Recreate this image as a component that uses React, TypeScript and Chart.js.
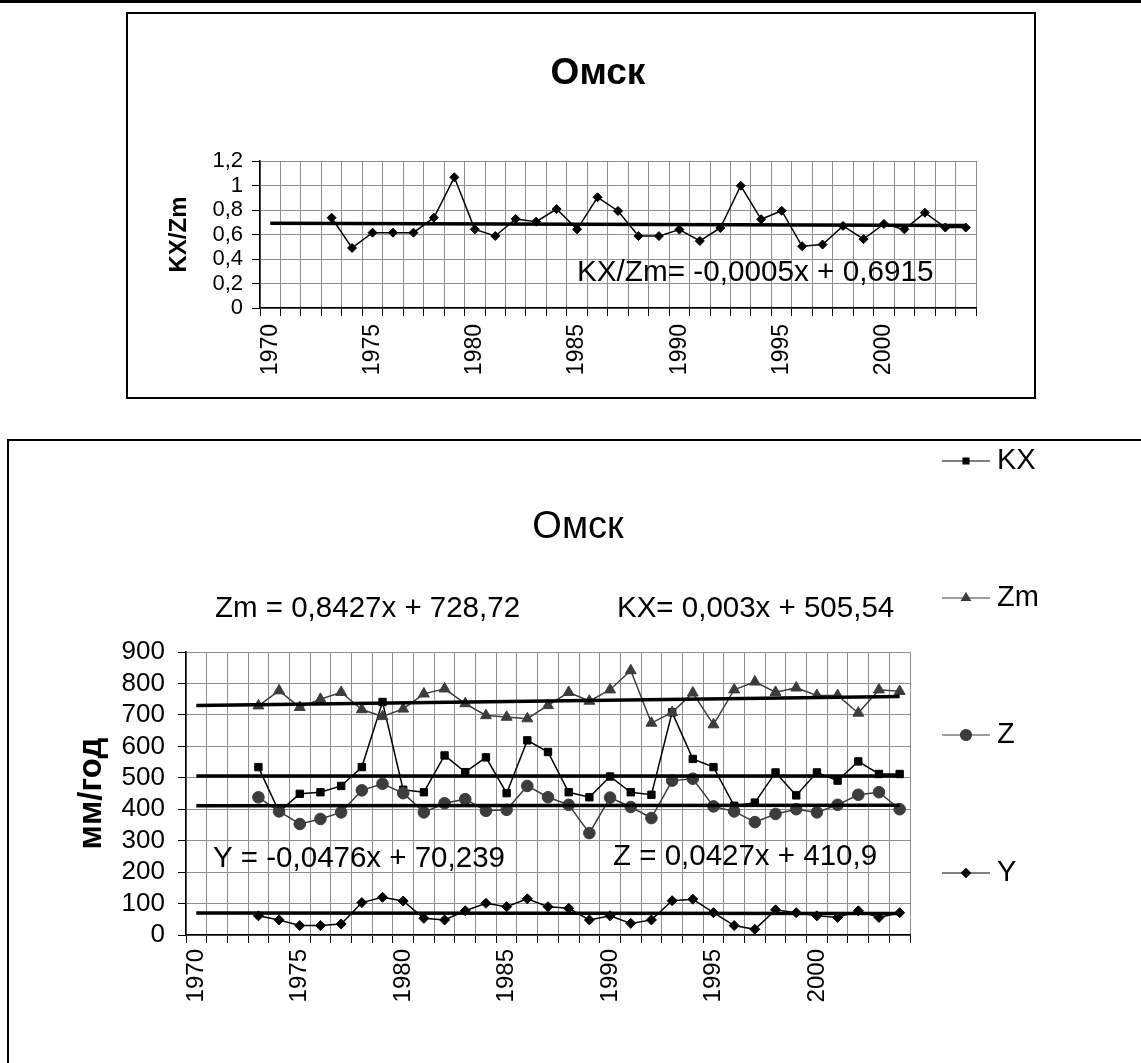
import React, { useEffect, useRef } from 'react';
import { Chart, registerables } from 'chart.js';
import { drawPoint } from 'chart.js/helpers';

Chart.register(...registerables);

const FONT = "'Liberation Sans', Arial, Helvetica, sans-serif";
const GRID = '#909090';
const DARK = '#3c3c3c';

// ---------- data ----------
const years = [
  '1970', '1971', '1972', '1973', '1974', '1975', '1976', '1977', '1978', '1979',
  '1980', '1981', '1982', '1983', '1984', '1985', '1986', '1987', '1988', '1989',
  '1990', '1991', '1992', '1993', '1994', '1995', '1996', '1997', '1998', '1999',
  '2000', '2001', '2002', '2003', '2004',
];
const labeledYears = ['1970', '1975', '1980', '1985', '1990', '1995', '2000'];

const ratioKXZm = [
  null, null, null, 0.737, 0.49, 0.615, 0.615, 0.615, 0.737, 1.067,
  0.642, 0.588, 0.727, 0.705, 0.808, 0.642, 0.904, 0.792, 0.587, 0.587,
  0.64, 0.547, 0.653, 0.998, 0.724, 0.794, 0.504, 0.518, 0.67, 0.562,
  0.686, 0.642, 0.778, 0.657, 0.657,
];
const ratioTrend = [0.691, 0.674];

const seriesKX = [
  null, null, null, 534, 392, 449, 454, 474, 534, 741,
  462, 454, 571, 518, 565, 451, 619, 582, 454, 438,
  504, 454, 446, 708, 560, 534, 411, 421, 517, 444,
  517, 491, 552, 512, 512,
];
const seriesZm = [
  null, null, null, 729, 777, 724, 750, 772, 717, 695,
  719, 767, 783, 736, 698, 693, 688, 730, 772, 744,
  780, 841, 674, 708, 770, 669, 780, 805, 772, 786,
  762, 762, 706, 780, 775,
];
const seriesZ = [
  null, null, null, 438, 393, 353, 369, 390, 460, 481,
  451, 390, 419, 432, 395, 398, 474, 438, 414, 324,
  437, 407, 372, 491, 497, 409, 393, 359, 385, 400,
  390, 414, 446, 454, 400,
];
const seriesY = [
  null, null, null, 61, 48, 30, 30, 35, 103, 120,
  108, 53, 48, 77, 101, 90, 115, 90, 85, 48,
  61, 37, 48, 109, 114, 71, 30, 18, 80, 71,
  61, 56, 77, 56, 71,
];
const trendKX = [505.5, 505.6];
const trendZm = [729.6, 758.2];
const trendZ = [410.9, 412.4];
const trendY = [70.2, 68.6];

const eqRatio = 'KX/Zm= -0,0005x + 0,6915';
const eqZm = 'Zm = 0,8427x + 728,72';
const eqKX = 'KX= 0,003x + 505,54';
const eqY = 'Y = -0,0476x + 70,239';
const eqZ = 'Z = 0,0427x + 410,9';

// ---------- helpers ----------
const trendData = (vals: number[]) => [
  { x: years[0], y: vals[0] },
  { x: years[years.length - 1], y: vals[1] },
];

const makeAnnot = (cfg: any) => ({
  id: 'annot',
  afterDraw(chart: any) {
    const ctx = chart.ctx;
    ctx.save();
    ctx.textBaseline = 'middle';
    (cfg.texts || []).forEach((t: any) => {
      ctx.font = t.font;
      ctx.fillStyle = '#000';
      ctx.textAlign = t.align || 'left';
      ctx.fillText(t.text, t.x, t.y);
    });
    const lg = cfg.legend;
    if (lg) {
      lg.items.forEach((it: any, i: number) => {
        const ds = chart.data.datasets[it.index];
        const y = lg.ys[i];
        ctx.strokeStyle = ds.borderColor;
        ctx.lineWidth = 1.2;
        ctx.beginPath();
        ctx.moveTo(lg.x0, y);
        ctx.lineTo(lg.x1, y);
        ctx.stroke();
        ctx.fillStyle = ds.pointBackgroundColor || ds.borderColor;
        ctx.strokeStyle = ds.pointBorderColor || ds.borderColor;
        drawPoint(ctx, { pointStyle: ds.pointStyle, radius: it.radius, borderWidth: 1, rotation: 0 }, (lg.x0 + lg.x1) / 2, y);
        ctx.fillStyle = '#000';
        ctx.font = lg.font;
        ctx.textAlign = 'left';
        ctx.fillText(ds.label, lg.textX, y);
      });
    }
    ctx.restore();
  },
});

const xTickCallback = function (this: any, value: any) {
  const lab = this.getLabelForValue(value);
  return labeledYears.includes(lab) ? lab : '';
};

const commaFmt = (v: any) => String(Math.round(Number(v) * 10) / 10).replace('.', ',');

// ---------- configs ----------
const topConfig = (): any => ({
  type: 'line',
  data: {
    labels: years,
    datasets: [
      {
        label: 'KX/Zm',
        data: ratioKXZm,
        borderColor: '#000',
        backgroundColor: '#000',
        borderWidth: 1.5,
        pointStyle: 'rectRot',
        pointRadius: 4.5,
        pointBorderWidth: 1,
        order: 1,
      },
      {
        label: 'trend',
        data: trendData(ratioTrend),
        borderColor: '#000',
        borderWidth: 3.5,
        pointRadius: 0,
        order: 0,
      },
    ],
  },
  options: {
    responsive: false,
    animation: false,
    events: [],
    layout: { padding: { left: 0, right: 58, top: 147, bottom: 0 } },
    plugins: { legend: { display: false }, title: { display: false }, tooltip: { enabled: false } },
    scales: {
      x: {
        type: 'category',
        offset: true,
        grid: { offset: true, color: GRID, tickColor: '#000', tickLength: 8, lineWidth: 1 },
        border: { color: '#000', width: 1.5 },
        ticks: {
          autoSkip: false,
          minRotation: 90,
          maxRotation: 90,
          padding: 8,
          color: '#000',
          font: { family: FONT, size: 23 },
          callback: xTickCallback,
        },
        afterFit: (s: any) => { s.height = 89; },
      },
      y: {
        min: 0,
        max: 1.2,
        grid: { color: GRID, tickColor: '#000', tickLength: 8, lineWidth: 1 },
        border: { color: '#000', width: 1.5 },
        ticks: {
          autoSkip: false,
          stepSize: 0.2,
          padding: 9,
          color: '#000',
          font: { family: FONT, size: 22, lineHeight: 1 },
          callback: commaFmt,
        },
        title: {
          display: true,
          text: 'KX/Zm',
          color: '#000',
          font: { family: FONT, size: 24, weight: 'bold' },
          padding: { top: 36.6, bottom: 0 },
        },
        afterFit: (s: any) => { s.width = 132; },
      },
    },
  },
  plugins: [
    makeAnnot({
      texts: [
        { text: 'Омск', x: 470, y: 60, font: `bold 37px ${FONT}`, align: 'center' },
        { text: eqRatio, x: 449, y: 259, font: `29.7px ${FONT}` },
      ],
    }),
  ],
});

const seriesDs = (label: string, data: any[], color: string, style: string, r: number, order: number) => ({
  label,
  data,
  borderColor: color,
  backgroundColor: color,
  pointBackgroundColor: color,
  pointBorderColor: color,
  borderWidth: 1.5,
  pointStyle: style,
  pointRadius: r,
  pointBorderWidth: 1,
  order,
});
const trendDs = (vals: number[]) => ({
  label: 'trend',
  data: trendData(vals),
  borderColor: '#000',
  borderWidth: 3.5,
  pointRadius: 0,
  order: 0,
});

const bottomConfig = (): any => ({
  type: 'line',
  data: {
    labels: years,
    datasets: [
      seriesDs('KX', seriesKX, '#000', 'rect', 5.2, 4),
      seriesDs('Zm', seriesZm, DARK, 'triangle', 6.3, 3),
      seriesDs('Z', seriesZ, DARK, 'circle', 5.8, 2),
      seriesDs('Y', seriesY, '#000', 'rectRot', 5, 1),
      trendDs(trendKX),
      trendDs(trendZm),
      trendDs(trendZ),
      trendDs(trendY),
    ],
  },
  options: {
    responsive: false,
    animation: false,
    events: [],
    layout: { padding: { left: 0, right: 231, top: 211, bottom: 0 } },
    plugins: { legend: { display: false }, title: { display: false }, tooltip: { enabled: false } },
    scales: {
      x: {
        type: 'category',
        offset: true,
        grid: { offset: true, color: GRID, tickColor: '#000', tickLength: 8, lineWidth: 1 },
        border: { color: '#000', width: 1.5 },
        ticks: {
          autoSkip: false,
          minRotation: 90,
          maxRotation: 90,
          padding: 6,
          color: '#000',
          font: { family: FONT, size: 24 },
          callback: xTickCallback,
        },
        afterFit: (s: any) => { s.height = 128; },
      },
      y: {
        min: 0,
        max: 900,
        grid: { color: GRID, tickColor: '#000', tickLength: 8, lineWidth: 1 },
        border: { color: '#000', width: 1.5 },
        ticks: {
          autoSkip: false,
          stepSize: 100,
          padding: 13,
          color: '#000',
          font: { family: FONT, size: 26, lineHeight: 1 },
        },
        title: {
          display: true,
          text: 'мм/год',
          color: '#000',
          font: { family: FONT, size: 33, weight: 'bold' },
          padding: { top: 63, bottom: 0 },
        },
        afterFit: (s: any) => { s.width = 177; },
      },
    },
  },
  plugins: [
    makeAnnot({
      texts: [
        { text: 'Омск', x: 569, y: 87, font: `38px ${FONT}`, align: 'center' },
        { text: eqZm, x: 206, y: 168, font: `29.5px ${FONT}` },
        { text: eqKX, x: 608, y: 168, font: `29.5px ${FONT}` },
        { text: eqY, x: 204, y: 418, font: `29.5px ${FONT}` },
        { text: eqZ, x: 604, y: 416, font: `29.5px ${FONT}` },
      ],
      legend: {
        x0: 933,
        x1: 981,
        textX: 988,
        ys: [20, 157, 294, 432],
        font: `29px ${FONT}`,
        items: [
          { index: 0, radius: 4.2 },
          { index: 1, radius: 5 },
          { index: 2, radius: 5.5 },
          { index: 3, radius: 4.5 },
        ],
      },
    }),
  ],
});

function ChartCanvas({ config, width, height }: { config: () => any; width: number; height: number }) {
  const ref = useRef<HTMLCanvasElement>(null);
  useEffect(() => {
    const chart = new Chart(ref.current as HTMLCanvasElement, config());
    return () => chart.destroy();
  }, []);
  return <canvas ref={ref} width={width} height={height} style={{ display: 'block', width, height }} />;
}

export default function App() {
  return (
    <div style={{ position: 'absolute', left: 0, top: 0, width: 1141, height: 1063, overflow: 'hidden', background: '#fff' }}>
      <div style={{ position: 'absolute', left: 0, top: 0, width: 1141, height: 3, background: '#000' }} />
      <div
        style={{
          position: 'absolute', left: 126, top: 12, width: 910, height: 387,
          boxSizing: 'border-box', border: '2px solid #000',
        }}
      >
        <ChartCanvas config={topConfig} width={906} height={383} />
      </div>
      <div
        style={{
          position: 'absolute', left: 7, top: 439, width: 1140, height: 630,
          boxSizing: 'border-box', borderTop: '2px solid #000', borderLeft: '2px solid #000',
        }}
      >
        <ChartCanvas config={bottomConfig} width={1132} height={622} />
      </div>
    </div>
  );
}
